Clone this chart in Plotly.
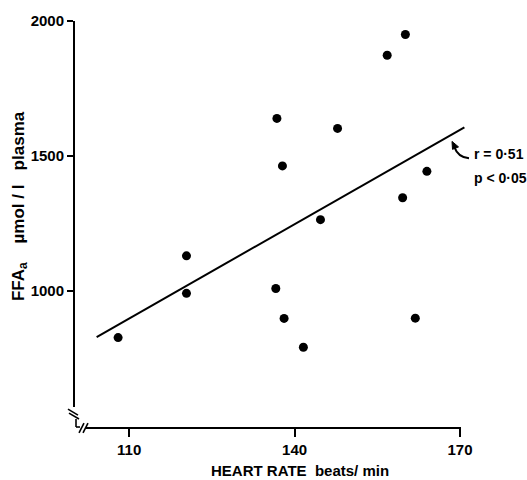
import plotly.graph_objects as go

# ---- data ----
heart_rate = [108.0, 120.4, 120.4, 136.8, 137.8, 136.6, 138.1, 141.6, 144.7, 147.8, 156.8, 160.1, 159.6, 164.0, 161.9]
ffa = [827, 1130, 991, 1639, 1463, 1009, 898, 791, 1264, 1602, 1873, 1950, 1345, 1443, 899]
fit_x = [104.1, 170.8]
fit_y = [829, 1606]
x_ticks = [110, 140, 170]
y_ticks = [1000, 1500, 2000]
x_title = "HEART RATE  beats/ min"
y_title = "FFA<sub>a</sub>    µmol / l   plasma"
r_text = "r = 0·51"
p_text = "p < 0·05"

W, H = 527, 480
L, R, T, B = 74, 56, 19, 52
PW, PH = W - L - R, H - T - B

def px_x(p):
    return (p - L) / PW

def px_y(p):
    return (H - B - p) / PH

FONT = "Liberation Sans, Arial, sans-serif"
TICK_FONT = dict(family=FONT, size=15, color="black", weight=700)

fig = go.Figure()
fig.add_trace(go.Scatter(x=fit_x, y=fit_y, mode="lines",
                         line=dict(color="black", width=2), hoverinfo="skip"))
fig.add_trace(go.Scatter(x=heart_rate, y=ffa, mode="markers",
                         marker=dict(color="black", size=9), cliponaxis=False))

line = dict(color="black", width=2)
thin = dict(color="black", width=1.6)

def seg(x0, y0, x1, y1, ln=thin):
    return dict(type="line", xref="paper", yref="paper",
                x0=px_x(x0), y0=px_y(y0), x1=px_x(x1), y1=px_y(y1), line=ln)

shapes = [
    # y axis line (broken near the origin)
    seg(74, 19, 74, 407, line),
    # y-axis break marks
    seg(68, 409, 78, 415),
    seg(69, 413, 79, 419),
    # small corner piece
    seg(76, 419, 76, 427),
    seg(76, 427, 80, 427),
    # x-axis break marks
    seg(79, 433, 84, 423),
    seg(83, 433, 88, 423),
    # x axis line
    seg(86, 428, 461, 428, line),
    # curved pointer to the regression line
    dict(type="path", xref="paper", yref="paper",
         path=f"M {px_x(469)},{px_y(157)} Q {px_x(458)},{px_y(156)} {px_x(454.5)},{px_y(146)}",
         line=dict(color="black", width=2)),
    # arrowhead
    dict(type="path", xref="paper", yref="paper",
         path=(f"M {px_x(452)},{px_y(140)} L {px_x(458.5)},{px_y(145.5)} "
               f"L {px_x(452.5)},{px_y(148)} Z"),
         fillcolor="black", line=dict(color="black", width=1)),
]

annotations = [
    dict(xref="paper", yref="paper", x=px_x(472), y=px_y(153), xanchor="left", yanchor="middle",
         text=r_text, showarrow=False, font=dict(family=FONT, size=14, color="black", weight=700)),
    dict(xref="paper", yref="paper", x=px_x(472), y=px_y(177), xanchor="left", yanchor="middle",
         text=p_text, showarrow=False, font=dict(family=FONT, size=14, color="black", weight=700)),
    dict(xref="paper", yref="paper", x=px_x(300), y=px_y(471), xanchor="center", yanchor="middle",
         text=x_title, showarrow=False, font=dict(family=FONT, size=15, color="black", weight=700)),
    dict(xref="paper", yref="paper", x=px_x(20), y=px_y(205), xanchor="center", yanchor="middle",
         text=y_title, textangle=-90, showarrow=False,
         font=dict(family=FONT, size=17, color="black", weight=700)),
]

fig.update_layout(
    width=W, height=H,
    margin=dict(l=L, r=R, t=T, b=B),
    paper_bgcolor="white", plot_bgcolor="white",
    showlegend=False,
    shapes=shapes, annotations=annotations,
    font=dict(family=FONT, size=15, color="black", weight=700),
)
fig.update_xaxes(range=[100, 172], tickvals=x_ticks, ticks="outside", ticklen=8, tickwidth=2,
                 tickcolor="black", showgrid=False, zeroline=False, showline=False,
                 tickfont=TICK_FONT)
fig.update_yaxes(range=[492, 2000], tickvals=y_ticks, ticks="outside", ticklen=6, tickwidth=2,
                 tickcolor="black", showgrid=False, zeroline=False, showline=False,
                 tickfont=TICK_FONT)

fig.write_html("out.html", config={"displayModeBar": False},
               post_script="document.body.style.margin='0';document.body.style.padding='0';document.body.style.overflow='hidden';")
